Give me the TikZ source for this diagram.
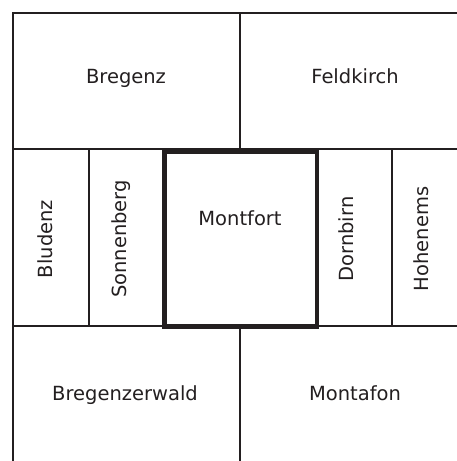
\documentclass[tikz,border=0pt]{standalone}
\usepackage{fontspec}
\setmainfont{DejaVu Sans}
\definecolor{ink}{RGB}{35,31,32}

\begin{document}
\begin{tikzpicture}[
    x=1pt, y=-1pt,
    rule/.style={draw=ink, line width=2pt},
    keep/.style={draw=ink, line width=4.3pt},
    town/.style={anchor=base, inner sep=0pt, text=ink, font=\fontsize{19.5}{23}\selectfont},
    vtown/.style={town, rotate=90}
]
\useasboundingbox (0,0) rectangle (457,461);

% Grid
\draw[rule] (457,13.3) -- (13.3,13.3) -- (13.3,461);
\draw[rule] (13.3,149.4) -- (457,149.4);
\draw[rule] (13.3,325.6) -- (457,325.6);
\draw[rule] (240,13.3) -- (240,149.4);
\draw[rule] (240,325.6) -- (240,461);
\draw[rule] (88.7,149.4) -- (88.7,325.6);
\draw[rule] (392.3,149.4) -- (392.3,325.6);

% Castle
\draw[keep] (164.5,151.8) rectangle (316.7,326.6);

% Nodes
\node[town] (bregenz) at (126,83.3) {Bregenz};
\node[town] (feldkirch) at (355,83.3) {Feldkirch};
\node[town] (montfort) at (240,225) {Montfort};
\node[town] (wald) at (125,400.3) {Bregenzerwald};
\node[town] (montafon) at (355,400.3) {Montafon};
\node[vtown] (bludenz) at (52,239) {Bludenz};
\node[vtown] (sonnenberg) at (126.7,239) {Sonnenberg};
\node[vtown] (dornbirn) at (353.3,239) {Dornbirn};
\node[vtown] (hohenems) at (428.3,239) {Hohenems};

\end{tikzpicture}
\end{document}
